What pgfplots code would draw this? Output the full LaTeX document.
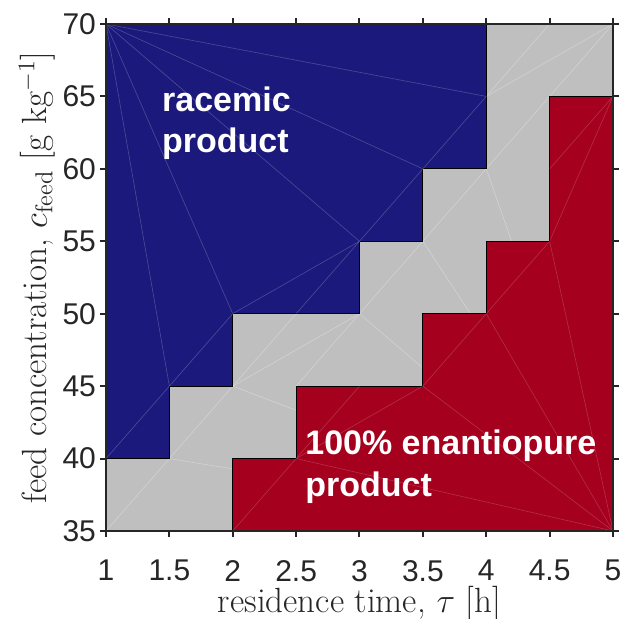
\documentclass[border=0pt]{standalone}
\usepackage{fontspec}
\usepackage{pgfplots}
\pgfplotsset{compat=1.18}
\newfontfamily\helv{Liberation Sans}
\definecolor{navy}{RGB}{27,25,123}
\definecolor{crimson}{RGB}{165,0,30}
\definecolor{midgray}{RGB}{191,191,191}
\definecolor{txt}{RGB}{38,38,38}
\begin{document}
\begin{tikzpicture}
\begin{axis}[
  scale only axis, width=253.5pt, height=253.5pt,
  at={(0,0)}, anchor=south west,
  xmin=1, xmax=5, ymin=35, ymax=70,
  xtick={1,1.5,2,2.5,3,3.5,4,4.5,5},
  ytick={35,40,45,50,55,60,65,70},
  tick align=outside, major tick length=3pt,
  major tick style={line width=1pt, black!85},
  axis line style={line width=1pt, black!85},
  axis background/.style={fill=midgray},
  /pgf/number format/assume math mode=true,
  ticklabel style={font=\helv\fontsize{15}{18}\selectfont, text=txt},
  xticklabel style={yshift=-8pt},
  yticklabel style={xshift=1.5pt},
  xlabel={residence time, $\tau$ [h]},
  ylabel={feed concentration, $c_{\mathrm{feed}}$ [g kg$^{-1}$]},
  every axis x label/.style={at={(axis description cs:0.5,0)}, anchor=base, yshift=-41pt,
     font=\fontsize{17.5}{21}\selectfont, text=txt},
  every axis y label/.style={at={(axis description cs:0,0.5)}, rotate=90, anchor=base, yshift=29.5pt,
     font=\fontsize{17.5}{21}\selectfont, text=txt},
  axis on top,
  tri/.style={white, opacity=0.3, line width=0.3pt},
  trib/.style={white, opacity=0.22, line width=0.3pt},
  trir/.style={white, opacity=0.18, line width=0.3pt},
]
% faint triangulation lines of the grey patch (partly hidden below the coloured patches)
\addplot[tri] coordinates {(1,35) (4.5,70)};
\addplot[tri] coordinates {(2.5,45) (5,70)};
\addplot[tri] coordinates {(4,65) (5,70)};
\addplot[tri] coordinates {(2,45) (3,50)};
\addplot[tri] coordinates {(1.5,40) (5,35)};
\addplot[tri] coordinates {(2,45) (5,35)};
\addplot[tri] coordinates {(3,50) (5,35)};
\addplot[tri] coordinates {(3.5,55) (5,35)};
\addplot[tri] coordinates {(4,60) (5,35)};
% racemic region
\addplot[fill=navy, draw=black, line width=0.5pt] coordinates {
  (1,70) (1,40) (1.5,40) (1.5,45) (2,45) (2,50) (3,50) (3,55) (3.5,55) (3.5,60) (4,60) (4,70)} -- cycle;
% enantiopure region
\addplot[fill=crimson, draw=black, line width=0.5pt] coordinates {
  (2,35) (2,40) (2.5,40) (2.5,45) (3.5,45) (3.5,50) (4,50) (4,55) (4.5,55) (4.5,65) (5,65) (5,35)} -- cycle;
% faint triangulation lines of the blue patch
\addplot[trib] coordinates {(1,70) (4,65)};
\addplot[trib] coordinates {(1,70) (3.5,60)};
\addplot[trib] coordinates {(1,70) (3,55)};
\addplot[trib] coordinates {(1,70) (2,50)};
\addplot[trib] coordinates {(1,70) (1.5,45)};
\addplot[trib] coordinates {(1,40) (2,50)};
\addplot[trib] coordinates {(2,50) (3,55)};
\addplot[trib] coordinates {(2.5,50) (4,65)};
% faint triangulation lines of the red patch
\addplot[trir] coordinates {(2,35) (3,45)};
\addplot[trir] coordinates {(2.5,40) (3.5,45)};
\addplot[trir] coordinates {(2.5,40) (5,35)};
\addplot[trir] coordinates {(3.5,45) (4.5,55)};
\addplot[trir] coordinates {(3.5,45) (5,35)};
\addplot[trir] coordinates {(4,50) (5,35)};
\addplot[trir] coordinates {(4.5,55) (5,35)};
\addplot[trir] coordinates {(4.5,55) (5,65)};
\addplot[trir] coordinates {(4.5,60) (5,65)};
\node[anchor=base west, inner sep=0, text=white, font=\helv\bfseries\fontsize{17}{20}\selectfont] at (axis cs:1.44,63.93) {racemic};
\node[anchor=base west, inner sep=0, text=white, font=\helv\bfseries\fontsize{17}{20}\selectfont] at (axis cs:1.44,61.16) {product};
\node[anchor=base west, inner sep=0, text=white, font=\helv\bfseries\fontsize{17}{20}\selectfont] at (axis cs:2.57,40.25) {100\% enantiopure};
\node[anchor=base west, inner sep=0, text=white, font=\helv\bfseries\fontsize{17}{20}\selectfont] at (axis cs:2.57,37.35) {product};
\end{axis}
\pgfresetboundingbox
\useasboundingbox (-53pt,-44pt) rectangle (258.5pt,265.5pt);
\end{tikzpicture}
\end{document}
